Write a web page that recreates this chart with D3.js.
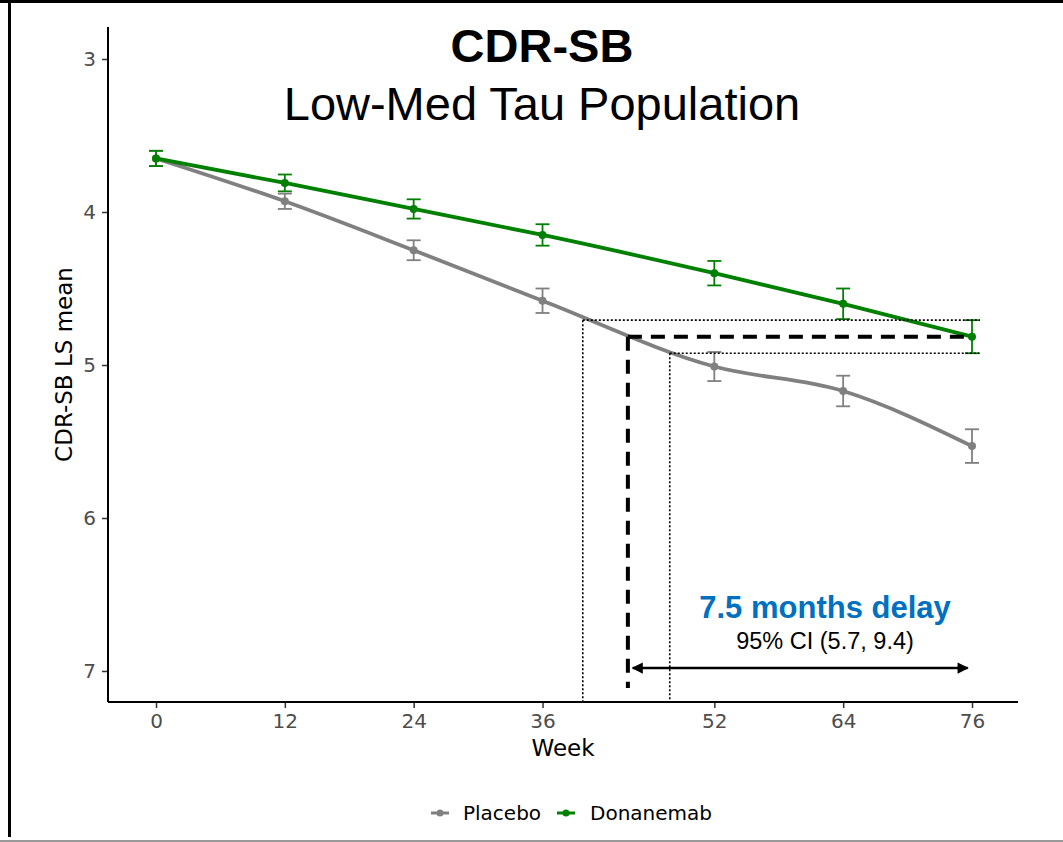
<!DOCTYPE html>
<html>
<head>
<meta charset="utf-8">
<script src="https://cdn.jsdelivr.net/npm/d3@7"></script>
<style>
  html, body { margin: 0; padding: 0; background: #fff; }
  svg { display: block; }
</style>
</head>
<body>
<svg id="chart" width="1063" height="842"></svg>
<script>
// ---- data ----
const weeks = [0, 12, 24, 36, 52, 64, 76];
const placeboMean = [3.65, 3.93, 4.25, 4.58, 5.01, 5.17, 5.53];
const placeboErr  = [0.05, 0.05, 0.065, 0.08, 0.095, 0.10, 0.11];
const donaMean    = [3.65, 3.81, 3.98, 4.15, 4.40, 4.60, 4.815];
const donaErr     = [0.05, 0.055, 0.063, 0.07, 0.08, 0.10, 0.108];
const yTicks = [3, 4, 5, 6, 7];
const seriesNames = ["Placebo", "Donanemab"];
// annotation values (weeks / score units)
const delayStartWeek = 43.95;
const ciLowWeek = 39.75;
const ciHighWeek = 47.85;
const arrowWeeks = [44.4, 75.6];
const delayText = "7.5 months delay";
const ciText = "95% CI (5.7, 9.4)";

const colors = { Placebo: "#808080", Donanemab: "#008000" };

const svg = d3.select("#chart");

// frame
svg.append("line").attr("x1", 0).attr("x2", 1063).attr("y1", 1.5).attr("y2", 1.5)
  .attr("stroke", "#000").attr("stroke-width", 3);
svg.append("line").attr("x1", 9.5).attr("x2", 9.5).attr("y1", 0).attr("y2", 837)
  .attr("stroke", "#000").attr("stroke-width", 3);
svg.append("line").attr("x1", 0).attr("x2", 1063).attr("y1", 841).attr("y2", 841)
  .attr("stroke", "#999").attr("stroke-width", 2);

// scales
const x = d3.scaleLinear().domain([0, 76]).range([156, 972]);
const y = d3.scaleLinear().domain([3, 7]).range([59, 671]);
const xAxisLeft = 108, xAxisRight = 1018, yAxisTop = 27, yAxisBottom = 702;

// axes
const xAxis = d3.axisBottom(x).tickValues(weeks).tickFormat(d3.format("d")).tickSize(6).tickPadding(6);
const gx = svg.append("g").attr("transform", `translate(0,${yAxisBottom})`).call(xAxis);
gx.select(".domain").remove();
gx.selectAll(".tick line").attr("stroke", "#333").attr("stroke-width", 1.5);
gx.selectAll(".tick text").attr("fill", "#4d4d4d").style("font-family", "DejaVu Sans")
  .style("font-size", "20px");
svg.append("line").attr("x1", xAxisLeft).attr("x2", xAxisRight)
  .attr("y1", yAxisBottom).attr("y2", yAxisBottom).attr("stroke", "#000").attr("stroke-width", 2);

const yAxis = d3.axisLeft(y).tickValues(yTicks).tickFormat(d3.format("d")).tickSize(6).tickPadding(6);
const gy = svg.append("g").attr("transform", `translate(${xAxisLeft},0)`).call(yAxis);
gy.select(".domain").remove();
gy.selectAll(".tick line").attr("stroke", "#333").attr("stroke-width", 1.5);
gy.selectAll(".tick text").attr("fill", "#4d4d4d").style("font-family", "DejaVu Sans")
  .style("font-size", "20px");
svg.append("line").attr("x1", xAxisLeft).attr("x2", xAxisLeft)
  .attr("y1", yAxisTop).attr("y2", yAxisBottom).attr("stroke", "#000").attr("stroke-width", 2);

// axis titles
svg.append("text").attr("x", (xAxisLeft + xAxisRight) / 2).attr("y", 756)
  .attr("text-anchor", "middle").style("font-family", "DejaVu Sans").style("font-size", "23px")
  .attr("fill", "#000").text("Week");
svg.append("text").attr("transform", `translate(72,${(yAxisTop + yAxisBottom) / 2}) rotate(-90)`)
  .attr("text-anchor", "middle").style("font-family", "DejaVu Sans").style("font-size", "23px")
  .attr("fill", "#000").text("CDR-SB LS mean");

// titles
svg.append("text").attr("x", 542).attr("y", 62).attr("text-anchor", "middle")
  .style("font-family", "Liberation Sans").style("font-weight", "bold").style("font-size", "47px")
  .text("CDR-SB");
svg.append("text").attr("x", 542).attr("y", 120).attr("text-anchor", "middle")
  .style("font-family", "Liberation Sans").style("font-size", "47px")
  .text("Low-Med Tau Population");

// series
const series = [
  { name: "Placebo", mean: placeboMean, err: placeboErr },
  { name: "Donanemab", mean: donaMean, err: donaErr }
];
const line = d3.line().x(d => x(d.w)).y(d => y(d.v)).curve(d3.curveMonotoneX);

series.forEach(s => {
  const pts = weeks.map((w, i) => ({ w, v: s.mean[i], e: s.err[i] }));
  const g = svg.append("g");
  const c = colors[s.name];
  // error bars
  pts.forEach(p => {
    g.append("line").attr("x1", x(p.w)).attr("x2", x(p.w))
      .attr("y1", y(p.v - p.e)).attr("y2", y(p.v + p.e)).attr("stroke", c).attr("stroke-width", 1.8);
    [p.v - p.e, p.v + p.e].forEach(v => {
      g.append("line").attr("x1", x(p.w) - 7).attr("x2", x(p.w) + 7)
        .attr("y1", y(v)).attr("y2", y(v)).attr("stroke", c).attr("stroke-width", 1.8);
    });
  });
  g.append("path").datum(pts).attr("d", line).attr("fill", "none")
    .attr("stroke", c).attr("stroke-width", 3.8);
  g.selectAll("circle").data(pts).join("circle")
    .attr("cx", d => x(d.w)).attr("cy", d => y(d.v)).attr("r", 4).attr("fill", c);
});

// annotations
const dTop = donaMean[6] - donaErr[6];
const dBot = donaMean[6] + donaErr[6];
const dotted = { stroke: "#000", "stroke-width": 1.6, "stroke-dasharray": "2 2" };
function seg(x1, y1, x2, y2, style) {
  const l = svg.append("line").attr("x1", x1).attr("y1", y1).attr("x2", x2).attr("y2", y2);
  Object.entries(style).forEach(([k, v]) => l.attr(k, v));
  return l;
}
seg(x(ciLowWeek), y(dTop), x(76) + 8, y(dTop), dotted);
seg(x(ciHighWeek), y(dBot), x(76) + 8, y(dBot), dotted);
seg(x(ciLowWeek), y(dTop), x(ciLowWeek), yAxisBottom, dotted);
seg(x(ciHighWeek), y(dBot), x(ciHighWeek), yAxisBottom, dotted);
const dashed = { stroke: "#000", "stroke-width": 4, "stroke-dasharray": "14 9" };
seg(x(delayStartWeek), y(donaMean[6]), x(76), y(donaMean[6]), dashed);
seg(x(delayStartWeek), y(donaMean[6]), x(delayStartWeek), 688, dashed);

// double arrow
const defs = svg.append("defs");
defs.append("marker").attr("id", "arr").attr("viewBox", "0 0 10 10")
  .attr("refX", 9).attr("refY", 5)
  .attr("markerWidth", 5).attr("markerHeight", 4.5).attr("markerUnits", "strokeWidth")
  .attr("orient", "auto-start-reverse")
  .append("path").attr("d", "M0,0 L10,5 L0,10 Z").attr("fill", "#000");
svg.append("line").attr("x1", x(arrowWeeks[0])).attr("x2", x(arrowWeeks[1]))
  .attr("y1", 668).attr("y2", 668).attr("stroke", "#000").attr("stroke-width", 2.5)
  .attr("marker-start", "url(#arr)").attr("marker-end", "url(#arr)");

svg.append("text").attr("x", 825).attr("y", 618).attr("text-anchor", "middle")
  .style("font-family", "Liberation Sans").style("font-weight", "bold").style("font-size", "31px")
  .attr("fill", "#0070C0").text(delayText);
svg.append("text").attr("x", 825).attr("y", 649).attr("text-anchor", "middle")
  .style("font-family", "Liberation Sans").style("font-size", "23.5px")
  .attr("fill", "#000").text(ciText);

// legend
const legend = svg.append("g");
const legendItems = [
  { name: seriesNames[0], kx: 440, tx: 463 },
  { name: seriesNames[1], kx: 566, tx: 590 }
];
legendItems.forEach(it => {
  const c = colors[it.name];
  legend.append("line").attr("x1", it.kx - 9).attr("x2", it.kx + 9).attr("y1", 813).attr("y2", 813)
    .attr("stroke", c).attr("stroke-width", 3);
  legend.append("circle").attr("cx", it.kx).attr("cy", 813).attr("r", 3.5).attr("fill", c);
  legend.append("text").attr("x", it.tx).attr("y", 820).style("font-family", "DejaVu Sans")
    .style("font-size", "20px").attr("fill", "#000").text(it.name);
});
</script>
</body>
</html>
